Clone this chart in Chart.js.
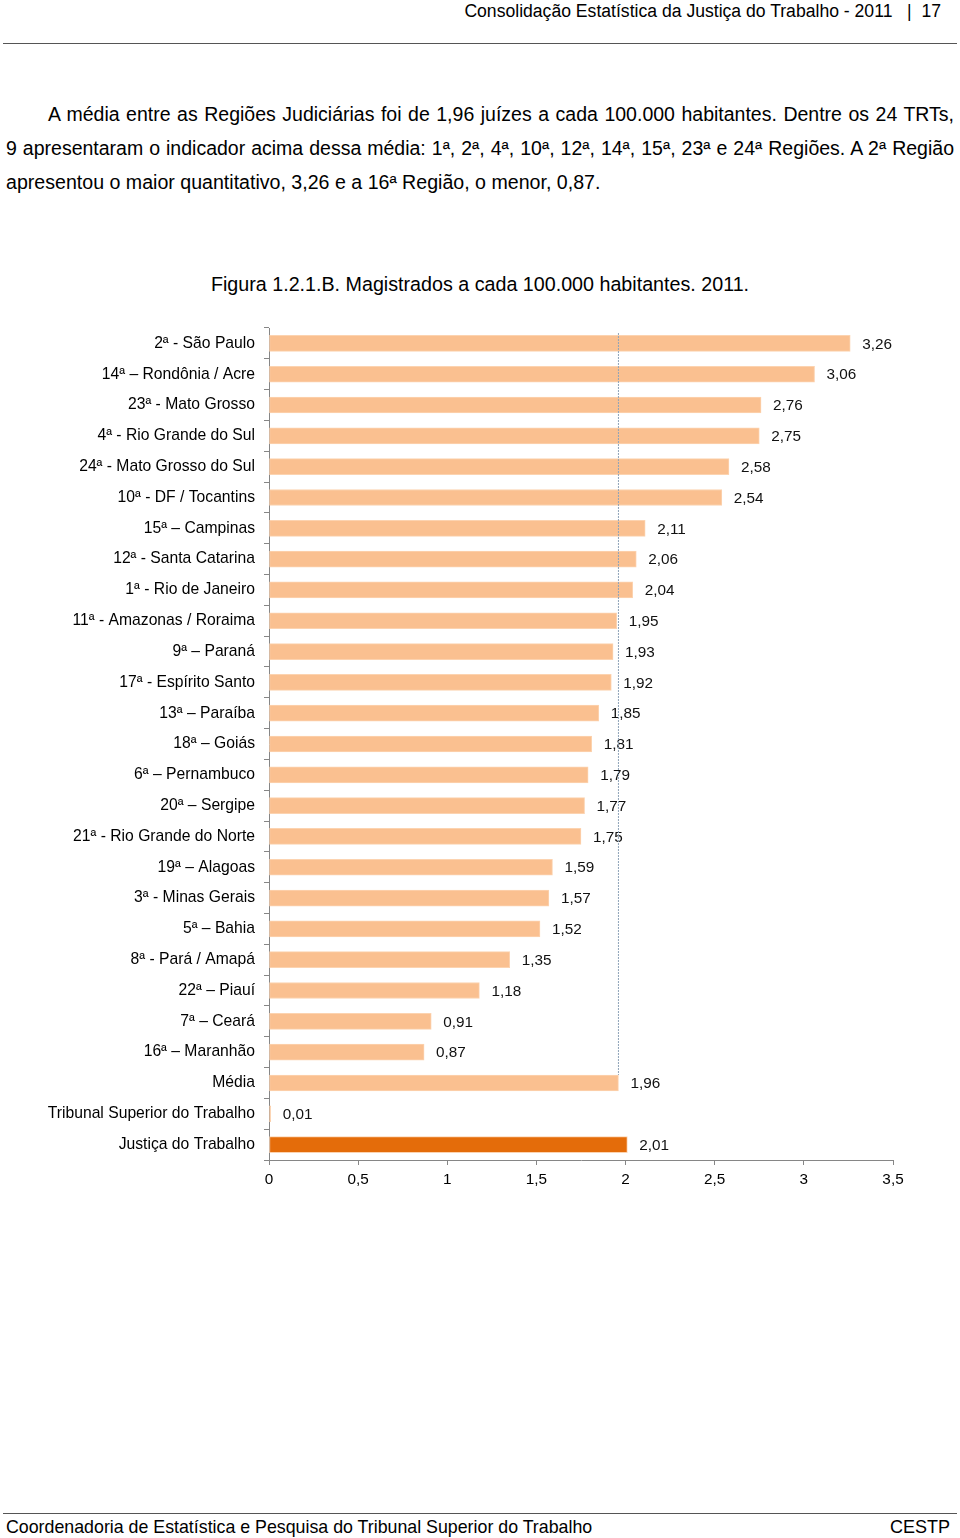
<!DOCTYPE html>
<html lang="pt">
<head>
<meta charset="utf-8">
<script src="https://cdn.jsdelivr.net/npm/chart.js@4.4.0/dist/chart.umd.min.js"></script>
<style>
    body { margin: 0; width: 960px; height: 1538px; background: #fff; position: relative; font-family: "Liberation Sans", Arial, sans-serif; color: #000; }
    .abs { position: absolute; white-space: nowrap; }
    .rule { position: absolute; left: 3px; width: 954px; height: 0; border-top: 1.5px solid #555; }
    .just { text-align: justify; text-align-last: justify; white-space: normal; }
</style>
</head>
<body>
<!-- En-tête -->
<div class="abs" style="right:19px; top:0; line-height:22px; font-size:17.6px;">Consolidação Estatística da Justiça do Trabalho - 2011&nbsp;&nbsp;&nbsp;|&nbsp;&nbsp;17</div>
<div class="rule" style="top:43px;"></div>

<!-- Paragraphe -->
<div class="abs just" style="left:48px; width:906px; top:97px; line-height:34px; font-size:19.5px;">A média entre as Regiões Judiciárias foi de 1,96 juízes a cada 100.000 habitantes. Dentre os 24 TRTs,</div>
<div class="abs just" style="left:6px; width:948px; top:131px; line-height:34px; font-size:19.5px;">9 apresentaram o indicador acima dessa média: 1ª, 2ª, 4ª, 10ª, 12ª, 14ª, 15ª, 23ª e 24ª Regiões. A 2ª Região</div>
<div class="abs" style="left:6px; top:165px; line-height:34px; font-size:19.6px;">apresentou o maior quantitativo, 3,26 e a 16ª Região, o menor, 0,87.</div>

<!-- Titre de la figure -->
<div class="abs" style="left:0; width:960px; text-align:center; top:270px; line-height:28px; font-size:19.7px;">Figura 1.2.1.B. Magistrados a cada 100.000 habitantes. 2011.</div>

<canvas id="chart" width="960" height="900" style="position:absolute; left:0; top:300px;"></canvas>

<!-- Pied de page -->
<div class="rule" style="top:1513px;"></div>
<div class="abs" style="left:6px; top:1516px; line-height:22px; font-size:17.8px;">Coordenadoria de Estatística e Pesquisa do Tribunal Superior do Trabalho</div>
<div class="abs" style="right:10px; top:1516px; line-height:22px; font-size:18px;">CESTP</div>

<script>
// Catégories (de haut en bas)
const regioes = [
    '2ª - São Paulo',
    '14ª – Rondônia / Acre',
    '23ª - Mato Grosso',
    '4ª - Rio Grande do Sul',
    '24ª - Mato Grosso do Sul',
    '10ª - DF / Tocantins',
    '15ª – Campinas',
    '12ª - Santa Catarina',
    '1ª - Rio de Janeiro',
    '11ª - Amazonas / Roraima',
    '9ª – Paraná',
    '17ª - Espírito Santo',
    '13ª – Paraíba',
    '18ª – Goiás',
    '6ª – Pernambuco',
    '20ª – Sergipe',
    '21ª - Rio Grande do Norte',
    '19ª – Alagoas',
    '3ª - Minas Gerais',
    '5ª – Bahia',
    '8ª - Pará / Amapá',
    '22ª – Piauí',
    '7ª – Ceará',
    '16ª – Maranhão',
    'Média',
    'Tribunal Superior do Trabalho',
    'Justiça do Trabalho'
];

// Magistrados a cada 100.000 habitantes
const magistrados = [
    3.26, 3.06, 2.76, 2.75, 2.58, 2.54, 2.11, 2.06, 2.04, 1.95,
    1.93, 1.92, 1.85, 1.81, 1.79, 1.77, 1.75, 1.59, 1.57, 1.52,
    1.35, 1.18, 0.91, 0.87, 1.96, 0.01, 2.01
];

// Graduations de l'axe x
const xTicks = [0, 0.5, 1, 1.5, 2, 2.5, 3, 3.5];

const COR_CLARA = '#FAC090';
const COR_ESCURA = '#E46C0A';
const FONTE = '"Liberation Sans", Arial, sans-serif';

const fmt = (v) => v.toString().replace('.', ',');

// Étiquettes de valeur à droite des barres
const valueLabels = {
    id: 'valueLabels',
    afterDatasetsDraw(chart) {
        const ctx = chart.ctx;
        const meta = chart.getDatasetMeta(0);
        ctx.save();
        ctx.font = '15.3px ' + FONTE;
        ctx.fillStyle = '#111';
        ctx.textAlign = 'left';
        ctx.textBaseline = 'middle';
        meta.data.forEach((bar, i) => {
            ctx.fillText(magistrados[i].toFixed(2).replace('.', ','), bar.x + 12, bar.y + 1);
        });
        ctx.restore();
    }
};

// Ligne verticale de la moyenne
const mediaLine = {
    id: 'mediaLine',
    afterDatasetsDraw(chart) {
        const idx = regioes.indexOf('Média');
        const bar = chart.getDatasetMeta(0).data[idx];
        const x = chart.scales.x.getPixelForValue(magistrados[idx]);
        const ctx = chart.ctx;
        ctx.save();
        ctx.strokeStyle = '#8FA3B8';
        ctx.lineWidth = 1;
        ctx.setLineDash([2, 1]);
        ctx.beginPath();
        ctx.moveTo(x, chart.chartArea.top + 5);
        ctx.lineTo(x, bar.y - bar.height / 2);
        ctx.stroke();
        ctx.restore();
    }
};

new Chart(document.getElementById('chart'), {
    type: 'bar',
    data: {
        labels: regioes,
        datasets: [{
            data: magistrados,
            backgroundColor: regioes.map(r => r === 'Justiça do Trabalho' ? COR_ESCURA : COR_CLARA),
            borderColor: '#FCD3B0',
            borderWidth: 1,
            borderSkipped: false,
            barThickness: 16
        }]
    },
    options: {
        indexAxis: 'y',
        responsive: false,
        animation: false,
        layout: { padding: { top: 28, right: 67, bottom: 10, left: 0 } },
        plugins: {
            legend: { display: false },
            tooltip: { enabled: false }
        },
        scales: {
            y: {
                afterFit: (scale) => { scale.width = 269; },
                grid: { drawOnChartArea: false, color: '#868686', tickLength: 5 },
                border: { color: '#868686' },
                ticks: { color: '#000', padding: 9, font: { family: FONTE, size: 15.7 } }
            },
            x: {
                min: 0,
                max: 3.5,
                afterFit: (scale) => { scale.height = 30; },
                afterBuildTicks: (scale) => { scale.ticks = xTicks.map(v => ({ value: v })); },
                grid: { drawOnChartArea: false, color: '#868686', tickLength: 5 },
                border: { color: '#868686' },
                ticks: {
                    color: '#000',
                    padding: 6,
                    maxRotation: 0,
                    font: { family: FONTE, size: 15.3 },
                    callback: (value) => fmt(value)
                }
            }
        }
    },
    plugins: [valueLabels, mediaLine]
});
</script>
</body>
</html>
